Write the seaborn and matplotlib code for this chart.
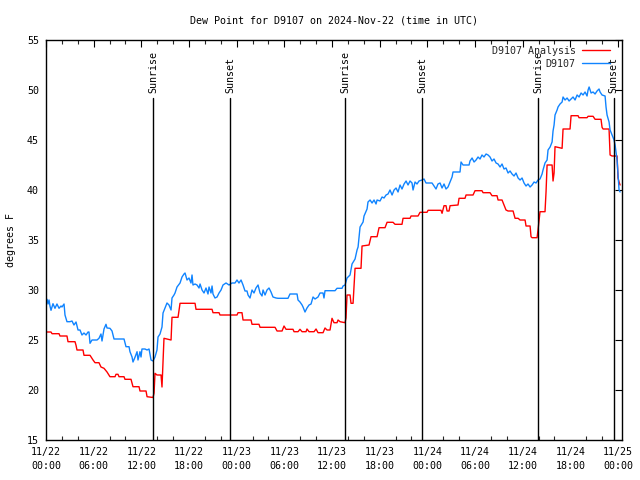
import numpy as np
import pandas as pd
import matplotlib
matplotlib.use("Agg")
import matplotlib.pyplot as plt
import matplotlib.dates as mdates
import seaborn as sns

START = "2024-11-22 00:00"
TITLE = "Dew Point for D9107 on 2024-Nov-22 (time in UTC)"
YLABEL = "degrees F"
red_label = "D9107 Analysis"
blue_label = "D9107"

# hours since 2024-11-22 00:00 UTC
red_hours = [0.00, 0.63, 0.76, 1.64, 1.76, 2.64, 2.77, 3.65, 3.78, 3.90, 4.66, 4.78, 5.54, 5.92,
             6.17, 6.67, 6.92, 7.30, 7.68, 8.05, 8.69, 8.81, 9.06, 9.19, 9.82, 9.94, 10.70, 10.95,
             11.71, 11.83, 12.59, 12.72, 13.47, 13.60, 13.72, 13.97, 14.48, 14.60, 14.85, 15.74,
             15.86, 16.62, 16.87, 18.76, 18.88, 20.90, 21.02, 21.78, 21.90, 24.04, 24.17, 24.67,
             24.80, 25.81, 25.93, 26.81, 26.94, 28.83, 29.08, 29.71, 29.96, 30.21, 31.09, 31.22,
             31.72, 31.97, 32.23, 32.73, 32.85, 33.11, 33.74, 33.99, 34.24, 34.87, 35.12, 35.37,
             35.75, 36.00, 36.25, 36.63, 36.76, 37.01, 37.64, 37.76, 37.89, 38.27, 38.39, 38.65,
             38.90, 39.65, 39.78, 40.66, 40.91, 41.67, 41.92, 42.67, 42.93, 43.68, 43.93, 44.81,
             44.94, 45.82, 45.95, 46.83, 47.08, 47.96, 48.09, 49.72, 49.85, 50.10, 50.35, 50.48,
             50.73, 50.86, 51.86, 51.99, 52.74, 52.87, 53.75, 54.00, 54.88, 55.01, 55.89, 56.14,
             56.77, 56.90, 57.40, 57.65, 57.90, 58.16, 58.79, 59.04, 59.42, 59.67, 60.30, 60.42,
             60.93, 61.05, 61.18, 61.81, 61.93, 62.06, 62.18, 62.81, 62.94, 63.07, 63.70, 63.82,
             63.95, 64.07, 64.96, 65.08, 65.96, 66.09, 66.97, 67.09, 68.10, 68.23, 68.86, 69.11,
             69.86, 69.99, 70.12, 70.87, 71.00, 71.25, 71.88, 72.00, 72.13, 72.26]
red_vals = [25.8, 25.8, 25.63, 25.63, 25.4, 25.4, 24.83, 24.83, 24.47, 24.0, 24.0, 23.47, 23.47, 23.0,
            22.73, 22.73, 22.3, 22.17, 21.8, 21.33, 21.33, 21.57, 21.57, 21.33, 21.33, 21.07, 21.07, 20.33,
            20.33, 19.9, 19.9, 19.33, 19.25, 19.7, 21.67, 21.5, 21.5, 20.3, 25.17, 25.0,
            27.27, 27.27, 28.67, 28.67, 28.07, 28.07, 27.73, 27.73, 27.5, 27.5, 27.73, 27.73,
            27.0, 27.0, 26.57, 26.57, 26.27, 26.27, 25.9, 25.9, 26.4, 26.07, 26.07, 25.83,
            25.83, 26.07, 25.83, 25.83, 26.1, 25.83, 25.83, 26.1, 25.73, 25.73, 26.2, 26.0,
            26.0, 27.17, 26.73, 26.73, 27.0, 26.83, 26.73, 27.2, 29.5, 29.5, 28.67, 28.67,
            32.17, 32.17, 34.4, 34.5, 35.33, 35.33, 36.23, 36.23, 36.77, 36.77, 36.57, 36.57,
            37.17, 37.17, 37.4, 37.4, 37.77, 37.77, 37.97, 37.97, 37.67, 38.43, 38.43, 37.9,
            37.9, 38.43, 38.5, 39.17, 39.17, 39.5, 39.5, 39.93, 39.93, 39.73, 39.73, 39.43,
            39.43, 39.0, 39.0, 38.5, 38.0, 37.9, 37.9, 37.17, 37.17, 37.0, 37.0, 36.4,
            36.4, 35.33, 35.23, 35.23, 36.0, 37.0, 37.83, 37.83, 39.83, 42.5, 42.5, 40.9,
            41.7, 44.33, 44.17, 46.1, 46.1, 47.43, 47.43, 47.23, 47.23, 47.37, 47.37, 47.07,
            47.07, 46.27, 46.1, 46.1, 43.5, 43.4, 43.4, 41.2, 40.8, 40.5]

blue_hours = [0.00, 0.13, 0.25, 0.38, 0.50, 0.63, 0.88, 1.13, 1.38, 1.64, 1.89, 2.01, 2.27, 2.39,
              2.64, 3.02, 3.27, 3.52, 3.78, 4.03, 4.28, 4.53, 4.78, 5.04, 5.29, 5.41, 5.54, 5.79,
              6.42, 6.67, 6.92, 7.05, 7.30, 7.55, 7.68, 8.05, 8.31, 8.56, 9.82, 10.07, 10.45, 10.57,
              10.83, 10.95, 11.20, 11.46, 11.58, 11.83, 11.96, 12.08, 12.46, 12.72, 12.97, 13.22,
              13.47, 13.72, 13.97, 14.10, 14.35, 14.60, 14.73, 14.98, 15.23, 15.48, 15.74, 15.86,
              16.11, 16.24, 16.49, 16.87, 17.12, 17.37, 17.50, 17.75, 18.00, 18.25, 18.38, 18.50,
              18.76, 19.01, 19.26, 19.39, 19.64, 19.89, 20.14, 20.39, 20.52, 20.77, 20.90, 21.02,
              21.27, 21.53, 21.78, 22.03, 22.28, 22.66, 23.04, 23.41, 23.79, 24.04, 24.29, 24.55,
              24.80, 25.05, 25.30, 25.43, 25.68, 25.93, 26.18, 26.43, 26.69, 26.94, 27.19, 27.32,
              27.57, 27.82, 28.07, 28.32, 28.57, 28.95, 29.20, 30.46, 30.71, 31.60, 31.72, 31.97,
              32.23, 32.35, 32.60, 32.85, 33.11, 33.36, 33.61, 33.86, 34.24, 34.49, 34.87, 34.99,
              35.12, 36.38, 36.63, 37.26, 37.39, 37.64, 37.89, 38.27, 38.52, 38.90, 39.15, 39.28,
              39.53, 39.91, 40.03, 40.41, 40.53, 40.79, 41.04, 41.29, 41.54, 41.67, 42.04, 42.30,
              42.55, 42.80, 43.05, 43.30, 43.56, 43.81, 44.06, 44.31, 44.56, 44.81, 45.07, 45.32,
              45.57, 45.82, 46.07, 46.20, 46.45, 46.70, 46.95, 47.33, 47.58, 47.83, 48.59, 48.84,
              49.09, 49.34, 49.60, 49.85, 50.10, 50.35, 50.60, 50.86, 51.11, 51.23, 52.11, 52.24,
              52.49, 53.25, 53.37, 53.63, 53.88, 54.13, 54.38, 54.63, 54.88, 55.13, 55.39, 55.64,
              55.89, 56.14, 56.39, 56.65, 56.90, 57.15, 57.40, 57.65, 57.90, 58.16, 58.41, 58.66,
              58.91, 59.16, 59.42, 59.67, 59.92, 60.17, 60.42, 60.67, 60.93, 61.18, 61.43, 61.68,
              61.93, 62.18, 62.44, 62.56, 62.81, 63.07, 63.19, 63.45, 63.70, 63.82, 63.95, 64.07,
              64.33, 64.45, 64.70, 64.96, 65.08, 65.33, 65.59, 65.84, 66.09, 66.34, 66.59, 66.85,
              67.10, 67.35, 67.60, 67.85, 68.10, 68.23, 68.36, 68.61, 68.86, 69.11, 69.36, 69.61,
              69.74, 69.99, 70.37, 70.49, 70.62, 70.87, 71.00, 71.25, 71.50, 71.63, 71.88, 72.00,
              72.13, 72.26]
blue_vals = [29.1, 29.07, 28.6, 29.0, 28.4, 27.97, 28.63, 28.17, 28.6, 28.17, 28.4, 28.3, 28.6, 27.5,
             26.83, 26.83, 26.9, 26.5, 26.8, 26.0, 26.0, 25.5, 25.7, 25.5, 25.8, 25.8, 24.67, 25.0,
             25.0, 25.17, 25.6, 24.9, 26.1, 26.57, 26.2, 26.17, 25.9, 25.1, 25.1, 24.33, 24.33, 23.83,
             23.3, 22.8, 23.27, 23.83, 23.0, 23.83, 23.3, 24.1, 24.1, 24.0, 24.1, 23.0,
             22.9, 23.3, 24.0, 25.3, 25.6, 26.3, 27.7, 28.2, 28.7, 28.5, 28.0, 29.2,
             29.5, 29.7, 30.3, 30.7, 31.3, 31.6, 31.7, 31.0, 31.2, 30.7, 31.5, 30.5,
             30.6, 30.5, 30.2, 30.6, 30.0, 29.7, 30.2, 29.6, 30.3, 29.7, 30.4, 29.6,
             29.2, 29.3, 29.7, 30.0, 30.5, 30.7, 30.5, 30.7, 30.7, 31.0, 30.7, 31.0,
             30.5, 29.9, 29.9, 29.5, 29.2, 30.0, 29.7, 30.2, 30.5, 29.7, 29.4, 30.0,
             29.5, 30.0, 30.2, 29.8, 29.3, 29.2, 29.17, 29.17, 29.6, 29.6, 29.0, 28.8,
             28.5, 28.3, 27.8, 28.2, 28.5, 28.6, 29.3, 29.1, 29.3, 29.7, 29.7, 29.2,
             29.93, 29.93, 30.17, 30.17, 30.4, 30.5, 31.2, 31.5, 32.6, 33.1, 34.0, 34.3,
             36.3, 36.8, 37.4, 38.1, 38.8, 39.0, 38.7, 39.0, 38.6, 39.0, 38.9, 39.3,
             39.2, 39.5, 39.6, 40.0, 39.5, 40.0, 40.2, 39.8, 40.5, 40.1, 40.6, 40.9,
             40.5, 40.9, 40.7, 40.0, 40.8, 40.6, 40.9, 41.0, 41.1, 40.7, 40.7, 40.4,
             40.1, 40.6, 40.7, 40.2, 40.6, 40.1, 40.3, 40.8, 41.3, 41.8, 41.8, 42.8,
             42.5, 42.5, 42.9, 43.2, 42.8, 43.0, 43.3, 43.1, 43.5, 43.3, 43.6, 43.5,
             43.3, 42.9, 43.1, 42.7, 42.6, 42.3, 42.6, 42.1, 42.2, 41.7, 41.9, 41.6,
             41.4, 41.7, 41.2, 41.0, 41.2, 40.7, 40.4, 40.6, 40.3, 40.5, 40.8, 40.7,
             41.0, 41.1, 41.6, 42.0, 42.7, 43.0, 44.0, 44.3, 44.8, 45.9, 46.5, 47.5,
             48.0, 48.3, 48.6, 48.8, 49.3, 49.0, 49.2, 48.9, 49.1, 49.3, 49.0, 49.5,
             49.3, 49.7, 49.5, 49.8, 49.4, 50.0, 50.3, 49.7, 49.8, 49.6, 49.9, 50.1,
             49.8, 49.5, 49.4, 48.3, 47.5, 46.8, 46.0, 45.5, 45.0, 44.5, 43.0, 41.5,
             40.0, 39.8]

sunrise_hours = [13.47, 37.64, 61.93]
sunset_hours = [23.16, 47.33, 71.45]

sns.set_theme(style="white")
plt.rcParams["font.family"] = ["DejaVu Sans Mono"]
FS = 7.2

t0 = pd.Timestamp(START)


def to_time(hours):
    return t0 + pd.to_timedelta(np.asarray(hours), unit="h")


df_red = pd.DataFrame({"time": to_time(red_hours), "value": red_vals})
df_blue = pd.DataFrame({"time": to_time(blue_hours), "value": blue_vals})

fig = plt.figure(figsize=(6.4, 4.8), dpi=100)
ax = fig.add_axes([46 / 640, 40 / 480, 576 / 640, 400 / 480])

sns.lineplot(data=df_red, x="time", y="value", color="#ff0000", linewidth=1.0,
             ax=ax, label=red_label, estimator=None, sort=False)
sns.lineplot(data=df_blue, x="time", y="value", color="#1084ff", linewidth=1.0,
             ax=ax, label=blue_label, estimator=None, sort=False)

ax.set_xlim(t0, t0 + pd.Timedelta(hours=72.5))
ax.set_ylim(15, 55)
ax.set_yticks(range(15, 56, 5))

ax.xaxis.set_major_locator(mdates.HourLocator(byhour=[0, 6, 12, 18]))
ax.xaxis.set_major_formatter(mdates.DateFormatter("%m/%d\n%H:%M"))
ax.xaxis.set_minor_locator(mdates.HourLocator(byhour=list(range(0, 24, 2))))

ax.tick_params(axis="both", which="major", direction="in", length=5, width=0.8,
               top=True, right=True, labelsize=FS, colors="black", pad=5)
ax.tick_params(axis="x", which="minor", direction="in", length=3, width=0.8,
               top=True, bottom=True)
for lbl in ax.get_xticklabels():
    lbl.set_linespacing(1.5)

for sp in ax.spines.values():
    sp.set_color("black")
    sp.set_linewidth(1.0)
    sp.set_visible(True)

xt = ax.get_xaxis_transform()
for h in sunrise_hours:
    t = t0 + pd.Timedelta(hours=h)
    ax.axvline(t, ymin=0, ymax=0.855, color="black", linewidth=1.0)
    ax.text(t, 0.8675, "Sunrise", transform=xt, rotation=90, ha="center", va="bottom",
            fontsize=FS, color="black")
for h in sunset_hours:
    t = t0 + pd.Timedelta(hours=h)
    ax.axvline(t, ymin=0, ymax=0.855, color="black", linewidth=1.0)
    ax.text(t, 0.8675, "Sunset", transform=xt, rotation=90, ha="center", va="bottom",
            fontsize=FS, color="black")

ax.set_xlabel("")
ax.set_ylabel(YLABEL, fontsize=FS, labelpad=8, color="black")
ax.set_title(TITLE, fontsize=FS, pad=12, color="black")

ax.legend(loc="upper right", bbox_to_anchor=(0.989, 1.0), frameon=False, markerfirst=False,
          fontsize=FS, handlelength=2.8, handletextpad=0.6, labelspacing=0.3,
          borderaxespad=0.3, borderpad=0.3)

fig.savefig("out.png", dpi=100)
